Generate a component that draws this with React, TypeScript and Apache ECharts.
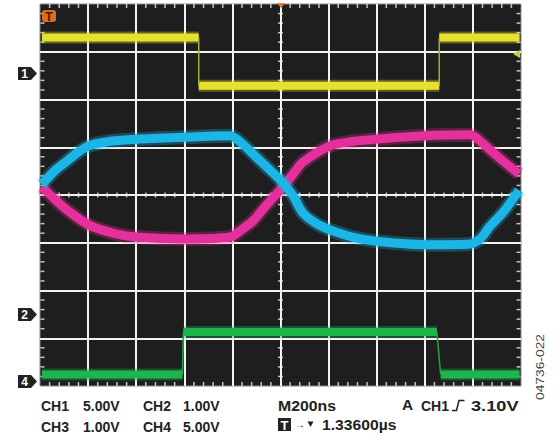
import React, { useEffect, useRef } from "react";
import * as echarts from "echarts";

// ---- data (screen divisions: x 0..10, y -4..4) ----
const ch1Edges = [3.3, 8.3];
const ch1Levels = [3.3, 2.29, 3.3];
const ch4Edges: [number, number][] = [[2.96, 2.98], [8.25, 8.33]];
const ch4Levels = [-3.76, -2.87, -3.76];
const traceStart = 0.04;
const traceEnd = 9.97;

const ch2X = [0.04, 0.3, 0.56, 0.8, 1.02, 1.5, 2.0, 3.0, 3.95, 4.2, 4.43, 4.7, 4.99, 5.25, 5.47, 5.75, 6.03, 6.5, 7.0, 8.0, 8.9, 9.15, 9.35, 9.63, 9.96];
const ch2Y = [0.22, 0.5, 0.71, 0.9, 1.03, 1.13, 1.17, 1.21, 1.24, 1.08, 0.86, 0.6, 0.32, 0.0, -0.38, -0.6, -0.73, -0.88, -0.97, -1.04, -1.03, -0.92, -0.66, -0.36, 0.1];
const ch3X = [0.04, 0.3, 0.56, 1.02, 1.6, 2.0, 3.0, 3.95, 4.2, 4.43, 4.7, 4.99, 5.25, 5.47, 6.03, 6.5, 7.0, 8.0, 8.95, 9.15, 9.35, 9.63, 9.96];
const ch3Y = [0.17, -0.08, -0.31, -0.63, -0.82, -0.88, -0.92, -0.88, -0.72, -0.54, -0.22, 0.1, 0.42, 0.69, 1.03, 1.12, 1.17, 1.24, 1.26, 1.13, 0.95, 0.71, 0.44];

const row1Texts = ["CH1", "5.00V", "CH2", "1.00V"];
const row2Texts = ["CH3", "1.00V", "CH4", "5.00V"];
const timebase = "M200ns";
const triggerSrcA = "A";
const triggerSrc = "CH1";
const triggerLevel = "3.10V";
const delayText = "1.33600\u00b5s";
const figId = "04736-022";

const YELLOW = "#e4e22e";
const CYAN = "#1cb6e6";
const MAGENTA = "#e3309b";
const GREEN = "#1db54c";

function stepSeries(edges: [number, number][], levels: number[], color: string, edgeColor: string, width: number) {
  const out: any[] = [];
  levels.forEach((lv, i) => {
    const x0 = i === 0 ? traceStart : edges[i - 1][1];
    const x1 = i === levels.length - 1 ? traceEnd : edges[i][0];
    out.push({
      type: "line", data: [[x0, lv], [x1, lv]], symbol: "none", silent: true, z: 2,
      lineStyle: { color, width: width + 4, opacity: 0.35 },
    });
    out.push({
      type: "line", data: [[x0, lv], [x1, lv]], symbol: "none", silent: true, z: 3,
      lineStyle: { color, width },
    });
  });
  edges.forEach((e, i) => {
    out.push({
      type: "line", data: [[e[0], levels[i]], [e[1], levels[i + 1]]], symbol: "none", silent: true, z: 3,
      lineStyle: { color: edgeColor, width: 1.5 },
    });
  });
  return out;
}

export default function App() {
  const ref = useRef<HTMLDivElement>(null);
  useEffect(() => {
    if (!ref.current) return;
    const chart = echarts.init(ref.current, null, { renderer: "svg" });

    const xMinor: number[] = [];
    for (let k = 1; k < 50; k++) if (k % 5 !== 0) xMinor.push(k / 5);
    const yMinor: number[] = [];
    for (let k = -19; k < 20; k++) if (k % 5 !== 0) yMinor.push(k / 5);
    const tick = (data: number[][], size: number[], offset: number[]) => ({
      type: "scatter", data, symbol: "rect", symbolSize: size, symbolOffset: offset,
      itemStyle: { color: "#ececec" }, silent: true, z: 1, clip: false,
    });

    const FF = "Liberation Sans, Arial, sans-serif";
    const txt = (x: number, y: number, s: string, sx = 1) => ({
      type: "text", x, y, scaleX: sx,
      style: { text: s, fill: "#222", fontFamily: FF, fontWeight: "bold", fontSize: 14, verticalAlign: "middle", align: "left" },
    });
    const colX = [41, 83, 143, 183];
    const marker = (y: number, label: string) => ({
      type: "group",
      children: [
        { type: "polygon", shape: { points: [[18, y - 6.5], [31, y - 6.5], [37, y], [31, y + 6.5], [18, y + 6.5]] }, style: { fill: "#222" } },
        { type: "text", x: 24.5, y: y + 0.5, style: { text: label, fill: "#fff", fontFamily: FF, fontWeight: "bold", fontSize: 12, align: "center", verticalAlign: "middle" } },
      ],
    });

    const ch1Pairs: [number, number][] = ch1Edges.map((e) => [e, e]);
    const curve = (xs: number[], ys: number[], color: string, z: number) => [
      {
        type: "line", data: xs.map((x, i) => [x, ys[i]]), symbol: "none", smooth: 0.3, silent: true, z,
        lineStyle: { color, width: 14, opacity: 0.3 },
      },
      {
        type: "line", data: xs.map((x, i) => [x, ys[i]]), symbol: "none", smooth: 0.3, silent: true, z: z + 0.5,
        lineStyle: { color, width: 9 },
      },
    ];

    chart.setOption({
      animation: false,
      backgroundColor: "#ffffff",
      grid: { left: 40, top: 4, width: 481, height: 382, show: true, backgroundColor: "#1e1e1e", borderColor: "#8a8a8a", borderWidth: 1 },
      xAxis: {
        type: "value", min: 0, max: 10, interval: 1,
        axisLine: { show: false }, axisTick: { show: false }, axisLabel: { show: false },
        splitLine: { show: true, showMinLine: false, showMaxLine: false, lineStyle: { color: "#f2f2f2", width: 2 } },
      },
      yAxis: {
        type: "value", min: -4, max: 4, interval: 1,
        axisLine: { show: false }, axisTick: { show: false }, axisLabel: { show: false },
        splitLine: { show: true, showMinLine: false, showMaxLine: false, lineStyle: { color: "#f2f2f2", width: 2 } },
      },
      series: [
        tick(xMinor.map((x) => [x, 4]), [1.5, 4], [0, 2]),
        tick(xMinor.map((x) => [x, -4]), [1.5, 4], [0, -2]),
        tick(xMinor.map((x) => [x, 0]), [1.5, 5], [0, 0]),
        tick(yMinor.map((y) => [0, y]), [4, 1.5], [2.5, 0]),
        tick(yMinor.map((y) => [10, y]), [4, 1.5], [-2.5, 0]),
        tick(yMinor.map((y) => [5, y]), [5, 1.5], [0, 0]),
        ...stepSeries(ch1Pairs, ch1Levels, YELLOW, "#9fb03a", 8),
        ...stepSeries(ch4Edges, ch4Levels, GREEN, "#27a548", 8),
        ...curve(ch3X, ch3Y, MAGENTA, 3),
        ...curve(ch2X, ch2Y, CYAN, 4),
      ],
      graphic: [
        { type: "polygon", shape: { points: [[277, 3], [285, 3], [281, 8]] }, style: { fill: "#e8782a" }, z: 10 },
        { type: "rect", shape: { x: 42, y: 10, width: 14, height: 12, r: 3 }, style: { fill: "#e06a1e" }, z: 10 },
        { type: "text", x: 49, y: 16.5, style: { text: "T", fill: "#4a1a00", fontFamily: FF, fontWeight: "bold", fontSize: 12, align: "center", verticalAlign: "middle" }, z: 11 },
        { type: "polygon", shape: { points: [[513, 54], [520, 50], [520, 58]] }, style: { fill: "#c8d034" }, z: 10 },
        marker(73.5, "1"),
        marker(314.5, "2"),
        marker(381.5, "4"),
        ...row1Texts.map((s, i) => txt(colX[i], 405.5, s)),
        ...row2Texts.map((s, i) => txt(colX[i], 427, s)),
        txt(278, 405.5, timebase, 1.13),
        txt(402, 405.5, triggerSrcA, 1.1),
        txt(421, 405.5, triggerSrc, 1.0),
        { type: "polyline", shape: { points: [[452, 410.5], [456.5, 410.5], [459, 400.5], [464.5, 400.5]] }, style: { stroke: "#222", lineWidth: 1.5, fill: "none" } },
        txt(471, 405.5, triggerLevel, 1.3),
        { type: "rect", shape: { x: 278, y: 418, width: 13, height: 13 }, style: { fill: "#222" } },
        { type: "text", x: 284.5, y: 425, style: { text: "T", fill: "#fff", fontFamily: FF, fontWeight: "bold", fontSize: 13, align: "center", verticalAlign: "middle" } },
        { type: "text", x: 295, y: 424.5, style: { text: "\u2192", fill: "#222", fontFamily: FF, fontWeight: "bold", fontSize: 10, align: "left", verticalAlign: "middle" } },
        { type: "polygon", shape: { points: [[307.5, 421.5], [313.5, 421.5], [310.5, 427]] }, style: { fill: "#222" } },
        txt(322, 425.5, delayText, 1.12),
        {
          type: "text", x: 541, y: 367, rotation: Math.PI / 2, scaleX: 1.38,
          style: { text: figId, fill: "#444", fontFamily: FF, fontSize: 10, align: "center", verticalAlign: "middle" },
        },
      ],
    });
    return () => chart.dispose();
  }, []);
  return <div ref={ref} style={{ position: "absolute", left: 0, top: 0, width: 557, height: 440 }} />;
}
